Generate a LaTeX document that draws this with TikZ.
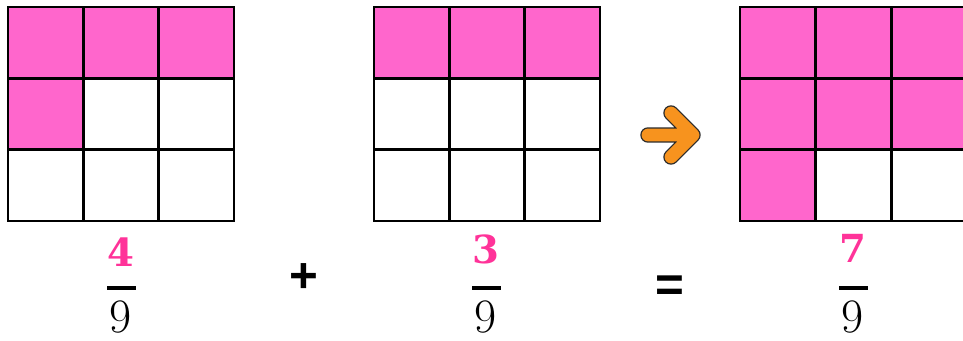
\documentclass[tikz,border=0pt]{standalone}
\usepackage{fontspec}
\newfontfamily\symfont{Liberation Sans}
\newfontfamily\numfont{DejaVu Serif}
\definecolor{cellpink}{HTML}{FF66CC}
\definecolor{numpink}{HTML}{FF3399}
\definecolor{arroworange}{HTML}{F7931E}
\definecolor{arrowline}{HTML}{2A2A2A}
\tikzset{
  cellbox/.style={draw=black, line width=2pt},
  numtext/.style={text=numpink, font=\numfont\bfseries\fontsize{29}{29}\selectfont, inner sep=0pt},
  dentext/.style={text=black, font=\fontsize{36}{36}\selectfont, inner sep=0pt},
  fracbar/.style={line width=2.3pt},
  optext/.style={font=\symfont\bfseries\fontsize{37}{37}\selectfont, inner sep=0pt}
}
\begin{document}
\begin{tikzpicture}[x=0.75pt,y=-0.75pt]
\clip (0,0) rectangle (963,341);
\fill[white] (0,0) rectangle (963,341);
% grid 1: 4 shaded
\foreach \r/\c/\f in {0/0/cellpink,0/1/cellpink,0/2/cellpink,1/0/cellpink,1/1/white,1/2/white,2/0/white,2/1/white,2/2/white}{
  \draw[cellbox, fill=\f] ({8+\c*75.33},{7+\r*71.33}) rectangle ++(75.33,71.33);
}
% grid 2: 3 shaded
\foreach \r/\c/\f in {0/0/cellpink,0/1/cellpink,0/2/cellpink,1/0/white,1/1/white,1/2/white,2/0/white,2/1/white,2/2/white}{
  \draw[cellbox, fill=\f] ({374+\c*75.33},{7+\r*71.33}) rectangle ++(75.33,71.33);
}
% grid 3: 7 shaded
\foreach \r/\c/\f in {0/0/cellpink,0/1/cellpink,0/2/cellpink,1/0/cellpink,1/1/cellpink,1/2/cellpink,2/0/cellpink,2/1/white,2/2/white}{
  \draw[cellbox, fill=\f] ({740+\c*75.6},{7+\r*71.33}) rectangle ++(75.6,71.33);
}
% arrow
\coordinate (ash) at (648,135);
\coordinate (atip) at (693,135);
\coordinate (atop) at (671,113);
\coordinate (abot) at (671,157);
\draw[arrowline, line width=11.6pt, line cap=round, line join=round] (ash) -- (atip) (atop) -- (atip) -- (abot);
\draw[arroworange, line width=9.6pt, line cap=round, line join=round] (ash) -- (atip) (atop) -- (atip) -- (abot);
% fractions
\node[numtext] (n1) at (121,252) {4};
\coordinate (b1l) at (107,288); \coordinate (b1r) at (136,288);
\draw[fracbar] (b1l) -- (b1r);
\node[dentext] (d1) at (121,317) {9};

\node[numtext] (n2) at (486,249) {3};
\coordinate (b2l) at (472,288); \coordinate (b2r) at (501,288);
\draw[fracbar] (b2l) -- (b2r);
\node[dentext] (d2) at (486,317) {9};

\node[numtext] (n3) at (853,248) {7};
\coordinate (b3l) at (839,288); \coordinate (b3r) at (868,288);
\draw[fracbar] (b3l) -- (b3r);
\node[dentext] (d3) at (853,317) {9};

% operators
\node[optext] (plus) at (304,278) {+};
\node[optext] (eq) at (670,289) {=};
\end{tikzpicture}
\end{document}
